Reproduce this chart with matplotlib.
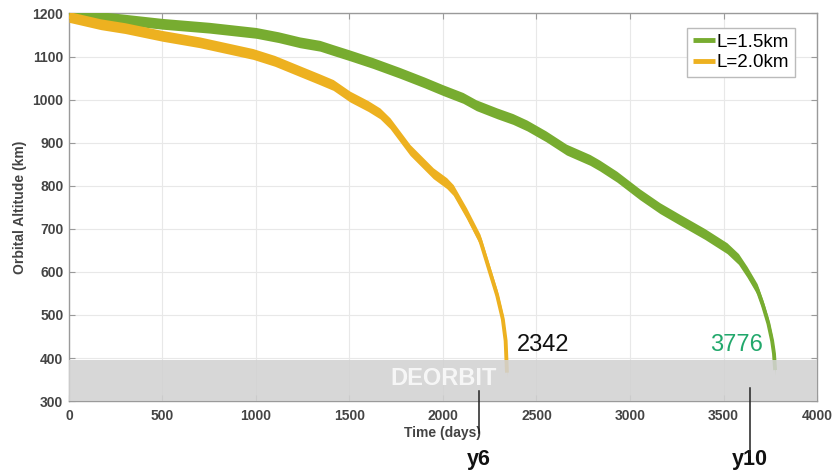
import matplotlib
matplotlib.use("Agg")
import matplotlib.pyplot as plt
import numpy as np

plt.rcParams['font.family'] = ['Liberation Sans', 'DejaVu Sans']

# ---- data ----
green_days = [0, 250, 500, 750, 1000, 1120, 1235, 1342, 1413, 1500, 1625, 1770, 1900, 2000,
              2107, 2178, 2290, 2374, 2449, 2550, 2660, 2786, 2838, 2930, 3053, 3160, 3267,
              3400, 3519, 3580, 3626, 3680, 3711, 3740, 3760, 3770, 3776]
green_alt = [1198, 1188, 1176, 1167, 1155, 1145, 1133, 1125, 1115, 1103, 1085, 1062, 1040,
             1022, 1004, 987, 968, 955, 940, 915, 884, 860, 847, 821, 780, 748, 721,
             688, 655, 630, 600, 560, 522, 480, 440, 410, 372]

orange_days = [0, 170, 300, 500, 700, 984, 1100, 1235, 1342, 1413, 1503, 1600, 1663, 1717,
               1824, 1948, 2020, 2055, 2126, 2198, 2251, 2290, 2320, 2335, 2342]
orange_alt = [1192, 1175, 1166, 1148, 1133, 1106, 1090, 1066, 1047, 1034, 1007, 985, 968,
              945, 883, 829, 806, 790, 736, 675, 600, 545, 490, 440, 366]

series_labels = ['L=1.5km', 'L=2.0km']
end_days = [2342, 3776]
deorbit_alt = [300, 395]
year_marks = [2193, 3642]
year_labels = ['y6', 'y10']
xticks = [0, 500, 1000, 1500, 2000, 2500, 3000, 3500, 4000]
yticks = [300, 400, 500, 600, 700, 800, 900, 1000, 1100, 1200]

GREEN = '#77AC30'
ORANGE = '#EDB120'
half = 12.5  # vertical half-thickness of the drawn band (km)

fig = plt.figure(figsize=(8.33, 4.73), dpi=100)
ax = fig.add_axes([0.0828, 0.152, 0.898, 0.8195])

ax.set_xlim(0, 4000)
ax.set_ylim(300, 1200)
ax.set_xticks(xticks)
ax.set_yticks(yticks)
ax.grid(True, color='#e8e8e8', lw=0.8, zorder=0)
ax.set_axisbelow(True)

for d, a, c, lab in [(green_days, green_alt, GREEN, series_labels[0]),
                     (orange_days, orange_alt, ORANGE, series_labels[1])]:
    d = np.asarray(d, float)
    a = np.asarray(a, float)
    ax.fill_between(d, a - half, a + half, color=c, lw=0, zorder=3)
    ax.plot(d, a, color=c, lw=2.8, solid_capstyle='butt', solid_joinstyle='round',
            zorder=3, label=lab)

# deorbit band on top of the curve tails
ax.axhspan(deorbit_alt[0], deorbit_alt[1], color='#d2d2d2', alpha=0.88, lw=0, zorder=4)
ax.text(2005, 353, 'DEORBIT', color='white', alpha=0.8, fontsize=17, fontweight='bold',
        ha='center', va='center', zorder=5)

ax.text(2396, 430, str(end_days[0]), color='#111111', fontsize=17, ha='left', va='center', zorder=5)
ax.text(3711, 430, str(end_days[1]), color='#22a86c', fontsize=17, ha='right', va='center', zorder=5)

# year markers below the axis
ax.plot([year_marks[0], year_marks[0]], [323, 226], color='#222222', lw=1.1, clip_on=False, zorder=6)
ax.plot([year_marks[1], year_marks[1]], [330, 175], color='#222222', lw=1.1, clip_on=False, zorder=6)
ax.text(year_marks[0], 165, year_labels[0], fontsize=15.5, fontweight='bold', ha='center',
        va='center', color='#111111', clip_on=False)
ax.text(year_marks[1], 165, year_labels[1], fontsize=15.5, fontweight='bold', ha='center',
        va='center', color='#111111', clip_on=False)

for s in ax.spines.values():
    s.set_color('#9a9a9a')
    s.set_linewidth(1.0)
ax.tick_params(direction='in', length=4, width=0.8, color='#9a9a9a', top=True, right=True,
               labelsize=10, labelcolor='#444444')
ax.tick_params(axis='x', pad=6)
ax.tick_params(axis='y', pad=4)
for lab in ax.get_xticklabels() + ax.get_yticklabels():
    lab.set_fontweight('bold')

ax.set_xlabel('Time (days)', fontsize=10, fontweight='bold', color='#444444', labelpad=2)
ax.set_ylabel('Orbital Altitude (km)', fontsize=10, fontweight='bold', color='#444444', labelpad=4)

leg = ax.legend(loc='upper right', fontsize=13.5, handlelength=1.2, handletextpad=0.1,
                borderpad=0.3, labelspacing=0.2, fancybox=False, framealpha=1,
                edgecolor='#bbbbbb', borderaxespad=0, bbox_to_anchor=(0.9706, 0.963))
for h in leg.get_lines():
    h.set_linewidth(3.5)

fig.savefig('out.png', dpi=100)
